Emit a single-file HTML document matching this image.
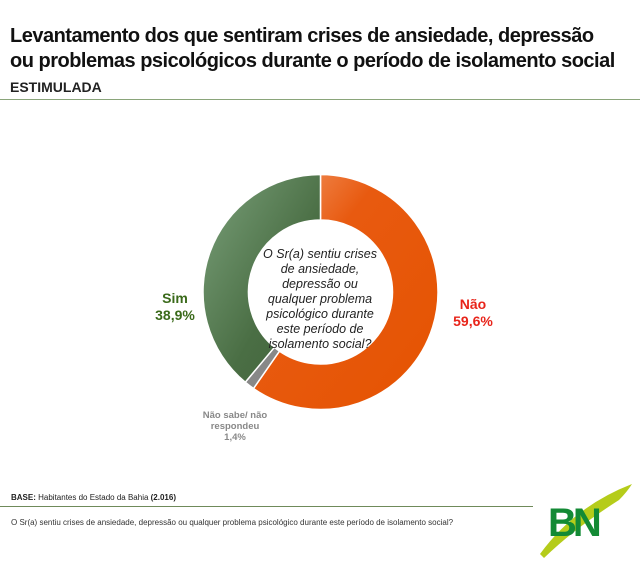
<!DOCTYPE html>
<html><head><meta charset="utf-8"><style>
body{margin:0;width:640px;height:563px;background:#fff;font-family:"Liberation Sans",sans-serif;position:relative;overflow:hidden}
.t{position:absolute;left:10px;font-weight:bold;color:#111}
</style></head><body>
<div class="t" style="top:24px;font-size:20px;line-height:25px;letter-spacing:-0.5px">Levantamento dos que sentiram crises de ansiedade, depressão<br>ou problemas psicológicos durante o período de isolamento social</div>
<div class="t" style="top:79px;font-size:14px;color:#222">ESTIMULADA</div>
<div style="position:absolute;left:0;top:99px;width:640px;height:1px;background:#8aa57a"></div>
<svg id="c" width="640" height="563" style="position:absolute;left:0;top:0">
<defs>
<linearGradient id="gO" x1="0" y1="0" x2="1" y2="1"><stop offset="0" stop-color="#f4a070"/><stop offset="0.35" stop-color="#e85a10"/><stop offset="1" stop-color="#e55300"/></linearGradient>
<linearGradient id="gG" x1="0" y1="0" x2="1" y2="1"><stop offset="0" stop-color="#7aa07a"/><stop offset="0.6" stop-color="#4a6e44"/><stop offset="1" stop-color="#42623c"/></linearGradient>
</defs>
</svg>
<div style="position:absolute;left:250px;top:247px;width:140px;text-align:center;font-style:italic;font-size:12.5px;line-height:15px;color:#222">O Sr(a) sentiu crises<br>de ansiedade,<br>depressão ou<br>qualquer problema<br>psicológico durante<br>este período de<br>isolamento social?</div>
<div style="position:absolute;left:150px;top:290px;width:50px;text-align:center;font-weight:bold;font-size:14px;line-height:17px;color:#3a6a1a">Sim<br>38,9%</div>
<div style="position:absolute;left:443px;top:296px;width:60px;text-align:center;font-weight:bold;font-size:14px;line-height:17px;color:#e8241a">Não<br>59,6%</div>
<div style="position:absolute;left:185px;top:410px;width:100px;text-align:center;font-weight:bold;font-size:9.5px;line-height:11px;color:#888">Não sabe/ não<br>respondeu<br>1,4%</div>
<div style="position:absolute;left:11px;top:493px;font-size:8px;color:#222"><b>BASE:</b> Habitantes do Estado da Bahia <b>(2.016)</b></div>
<div style="position:absolute;left:0;top:506px;width:533px;height:1px;background:#6f8a5a"></div>
<div style="position:absolute;left:11px;top:518px;font-size:8px;color:#333">O Sr(a) sentiu crises de ansiedade, depressão ou qualquer problema psicológico durante este período de isolamento social?</div>
<svg width="100" height="95" style="position:absolute;left:535px;top:478px">
<path d="M5 76 Q40 28 97 6 Q92 14 84 22 Q40 50 9 80 Z" fill="#b5cc1a"/>
<text x="13" y="58" font-family="Liberation Sans" font-weight="bold" font-size="40" fill="#138a35" letter-spacing="-4">BN</text>
</svg>
<script>
const categories=["Não","Não sabe/ não respondeu","Sim"];
const values=[59.6,1.4,38.9];
const fills=["url(#gO)","#888","url(#gG)"];
const svg=document.getElementById('c');
const cx=320.5,cy=292,R=117.5,r=72;
const total=values.reduce((a,b)=>a+b,0);
function pt(rad,a){return [cx+rad*Math.sin(a),cy-rad*Math.cos(a)];}
let a0=0;
values.forEach((v,i)=>{
 const a1=a0+v/total*2*Math.PI;
 const [x1,y1]=pt(R,a0),[x2,y2]=pt(R,a1),[x3,y3]=pt(r,a1),[x4,y4]=pt(r,a0);
 const lg=(a1-a0)>Math.PI?1:0;
 const p=document.createElementNS('http://www.w3.org/2000/svg','path');
 p.setAttribute('d',`M${x1} ${y1}A${R} ${R} 0 ${lg} 1 ${x2} ${y2}L${x3} ${y3}A${r} ${r} 0 ${lg} 0 ${x4} ${y4}Z`);
 p.setAttribute('fill',fills[i]);
 p.setAttribute('stroke','#fff');
 p.setAttribute('stroke-width','1.5');
 
 
 svg.appendChild(p);
 a0=a1;
});
</script>
</body></html>
